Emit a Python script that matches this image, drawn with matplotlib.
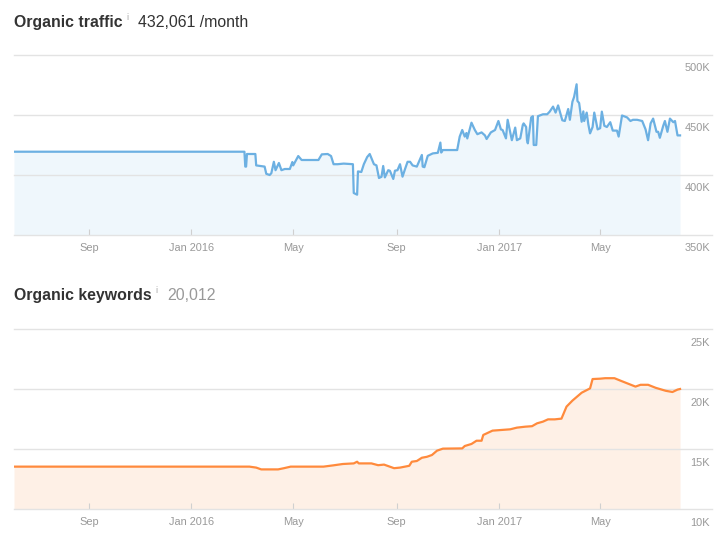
import matplotlib
matplotlib.use('Agg')
import matplotlib.pyplot as plt
import matplotlib.transforms as mtransforms
import pandas as pd

plt.rcParams['font.family'] = ['Liberation Sans', 'DejaVu Sans']

# ---------------- data ----------------
traffic_dates = [
    "2015-06-04", "2016-03-04", "2016-03-05", "2016-03-06", "2016-03-07", "2016-03-17", "2016-03-18",
    "2016-03-28", "2016-03-30", "2016-04-03", "2016-04-05", "2016-04-08", "2016-04-10", "2016-04-14",
    "2016-04-17", "2016-04-21", "2016-04-27", "2016-04-30", "2016-05-01", "2016-05-07", "2016-05-11",
    "2016-05-31", "2016-06-04", "2016-06-11", "2016-06-15", "2016-06-18", "2016-06-23", "2016-06-30",
    "2016-07-11", "2016-07-12", "2016-07-16", "2016-07-17", "2016-07-21", "2016-07-24", "2016-07-28",
    "2016-07-31", "2016-08-05", "2016-08-08", "2016-08-11", "2016-08-14", "2016-08-16", "2016-08-18",
    "2016-08-22", "2016-08-24", "2016-08-28", "2016-08-30", "2016-09-02", "2016-09-05", "2016-09-08",
    "2016-09-11", "2016-09-14", "2016-09-17", "2016-09-20", "2016-09-25", "2016-10-01", "2016-10-02",
    "2016-10-04", "2016-10-08", "2016-10-14", "2016-10-20", "2016-10-23", "2016-10-24", "2016-10-26",
    "2016-11-12", "2016-11-15", "2016-11-18", "2016-11-21", "2016-11-23", "2016-11-24", "2016-11-29",
    "2016-12-03", "2016-12-06", "2016-12-11", "2016-12-15", "2016-12-17", "2016-12-22", "2016-12-27",
    "2016-12-31", "2017-01-03", "2017-01-05", "2017-01-09", "2017-01-11", "2017-01-16", "2017-01-20",
    "2017-01-22", "2017-01-26", "2017-01-29", "2017-01-30", "2017-02-02", "2017-02-03", "2017-02-04",
    "2017-02-08", "2017-02-10", "2017-02-11", "2017-02-14", "2017-02-16", "2017-02-22", "2017-02-27",
    "2017-03-02", "2017-03-06", "2017-03-09", "2017-03-12", "2017-03-17", "2017-03-20", "2017-03-24",
    "2017-03-26", "2017-03-29", "2017-03-31", "2017-04-03", "2017-04-04", "2017-04-06", "2017-04-09",
    "2017-04-11", "2017-04-12", "2017-04-15", "2017-04-17", "2017-04-19", "2017-04-22", "2017-04-24",
    "2017-04-28", "2017-05-01", "2017-05-03", "2017-05-06", "2017-05-09", "2017-05-13", "2017-05-16",
    "2017-05-21", "2017-05-23", "2017-05-27", "2017-06-02", "2017-06-06", "2017-06-09", "2017-06-14",
    "2017-06-20", "2017-06-24", "2017-06-27", "2017-06-30", "2017-07-03", "2017-07-07", "2017-07-09",
    "2017-07-11", "2017-07-15", "2017-07-17", "2017-07-20", "2017-07-23", "2017-07-27", "2017-07-29",
    "2017-08-01", "2017-08-04"]
traffic_k = [
    419.4, 419.4, 407, 407, 417.5, 417.5, 408, 407, 401, 400, 401.5, 411, 404, 410, 404, 405, 405,
    410.8, 408, 415.8, 412.5, 412.5, 417.2, 417.5, 415.8, 409, 409, 409.5, 409, 385, 383.6, 403,
    402.5, 409, 415, 417.5, 409, 408, 397.5, 398.5, 407.5, 398, 404, 403.5, 396.7, 403.6, 404, 409,
    398.6, 405, 411, 411, 408, 407, 416.7, 407, 406.5, 416, 418, 418.5, 427, 418.7, 420.8, 420.8,
    432, 437.5, 432, 435, 430.5, 443.6, 437.5, 434, 435.5, 433, 430, 435.5, 437.5, 445, 438, 437.5,
    430.5, 446, 429, 439.5, 429, 430.5, 441.7, 443, 440, 429, 426.4, 448, 449, 425, 425, 449, 450.6,
    450.6, 452.8, 457, 452, 458, 445.6, 445, 455, 446, 461, 465, 475.6, 461.7, 460, 444.4, 453, 445,
    452, 442, 434.7, 440, 452, 438, 439, 452.8, 441, 440, 444, 437, 437, 432, 449.6, 448, 445, 446,
    446, 445, 438, 429, 443, 447, 436, 436, 431, 441, 445, 436, 447, 444, 445, 433, 433]

keyword_dates = [
    "2015-06-04", "2016-03-10", "2016-03-18", "2016-03-24", "2016-04-13", "2016-04-20", "2016-04-28",
    "2016-06-06", "2016-06-18", "2016-06-29", "2016-07-12", "2016-07-16", "2016-07-18", "2016-08-02",
    "2016-08-10", "2016-08-17", "2016-08-29", "2016-09-05", "2016-09-16", "2016-09-19", "2016-09-25",
    "2016-10-01", "2016-10-07", "2016-10-13", "2016-10-19", "2016-10-26", "2016-11-18", "2016-11-21",
    "2016-11-29", "2016-12-05", "2016-12-11", "2016-12-13", "2016-12-17", "2016-12-24", "2017-01-14",
    "2017-01-22", "2017-02-01", "2017-02-09", "2017-02-15", "2017-02-22", "2017-02-28", "2017-03-08",
    "2017-03-16", "2017-03-22", "2017-03-29", "2017-04-09", "2017-04-19", "2017-04-22", "2017-05-01",
    "2017-05-07", "2017-05-18", "2017-05-25", "2017-06-03", "2017-06-12", "2017-06-18", "2017-06-27",
    "2017-07-06", "2017-07-18", "2017-07-26", "2017-08-01", "2017-08-04"]
keywords_k = [
    13.53, 13.53, 13.45, 13.3, 13.3, 13.4, 13.53, 13.53, 13.64, 13.75, 13.8, 13.94, 13.8, 13.8,
    13.65, 13.7, 13.4, 13.45, 13.6, 13.94, 14.0, 14.27, 14.35, 14.5, 14.86, 15.03, 15.05, 15.25,
    15.42, 15.69, 15.69, 16.17, 16.3, 16.53, 16.64, 16.78, 16.86, 16.9, 17.14, 17.28, 17.47, 17.47,
    17.53, 18.53, 19.03, 19.69, 20.05, 20.83, 20.86, 20.9, 20.9, 20.7, 20.45, 20.2, 20.35, 20.35,
    20.1, 19.85, 19.75, 19.95, 20.0]

traffic_yticks = [350, 400, 450, 500]
keyword_yticks = [10, 15, 20, 25]
month_ticks = pd.date_range("2015-09-01", "2017-05-01", freq="4MS")
x_range = (pd.Timestamp("2015-06-04"), pd.Timestamp("2017-09-11"))

traffic_title = "Organic traffic"
traffic_value = "432,061 /month"
keyword_title = "Organic keywords"
keyword_value = "20,012"

# ---------------- figure ----------------
W, H = 725, 534
fig = plt.figure(figsize=(W / 100, H / 100), dpi=100)


def px_axes(left, top, right, bottom):
    return fig.add_axes([left / W, 1 - bottom / H, (right - left) / W, (bottom - top) / H])


def month_label(d):
    return d.strftime("Jan %Y") if d.month == 1 else d.strftime("%b")


def draw_panel(ax, dates, vals, yticks, line_c, fill_c, label_dy):
    d = pd.to_datetime(dates)
    ax.fill_between(d, vals, yticks[0], color=fill_c, lw=0, zorder=1)
    ax.plot(d, vals, color=line_c, lw=1.6, solid_joinstyle='round', zorder=3)
    ax.set_xlim(*x_range)
    ax.set_ylim(yticks[0], yticks[-1])
    for v in yticks:
        ax.axhline(v, color='#e3e3e3', lw=1.0, zorder=2, clip_on=False)
    ax.set_yticks([])
    for s in ax.spines.values():
        s.set_visible(False)
    ax.set_xticks(month_ticks)
    ax.set_xticklabels([month_label(m) for m in month_ticks])
    ax.tick_params(axis='x', direction='in', length=4.3, width=0.8, color='#d0d0d0',
                   labelsize=7.9, labelcolor='#999999', pad=5.5)
    ax.patch.set_visible(False)
    blend = mtransforms.blended_transform_factory(ax.transAxes, ax.transData)
    for v in yticks:
        ax.annotate(f"{v}K", xy=(1, v), xycoords=blend, xytext=(-1.5, -label_dy * 0.72),
                    textcoords='offset points', ha='right', va='center',
                    fontsize=7.9, color='#999999', annotation_clip=False)


ax1 = px_axes(14, 55, 712, 235)
ax2 = px_axes(14, 329, 712, 509)
draw_panel(ax1, traffic_dates, traffic_k, traffic_yticks, '#6cb0e2', '#eff7fc', 13)
draw_panel(ax2, keyword_dates, keywords_k, keyword_yticks, '#ff8a3c', '#fef0e6', 14)

renderer = fig.canvas.get_renderer()


def title_row(x0, base_y, title, value, value_color):
    t = fig.text(x0 / W, 1 - base_y / H, title, fontsize=11.4, fontweight='bold',
                 color='#333333', va='baseline', ha='left')
    x = t.get_window_extent(renderer).x1 + 4
    i = fig.text(x / W, 1 - (base_y - 7) / H, "i", fontsize=6.5, color='#aaaaaa',
                 va='baseline', ha='left')
    x = i.get_window_extent(renderer).x1 + 9
    fig.text(x / W, 1 - base_y / H, value, fontsize=11.4, color=value_color,
             va='baseline', ha='left')


title_row(14, 26.7, traffic_title, traffic_value, '#333333')
title_row(14, 300, keyword_title, keyword_value, '#999999')

fig.savefig("out.png", dpi=100)
